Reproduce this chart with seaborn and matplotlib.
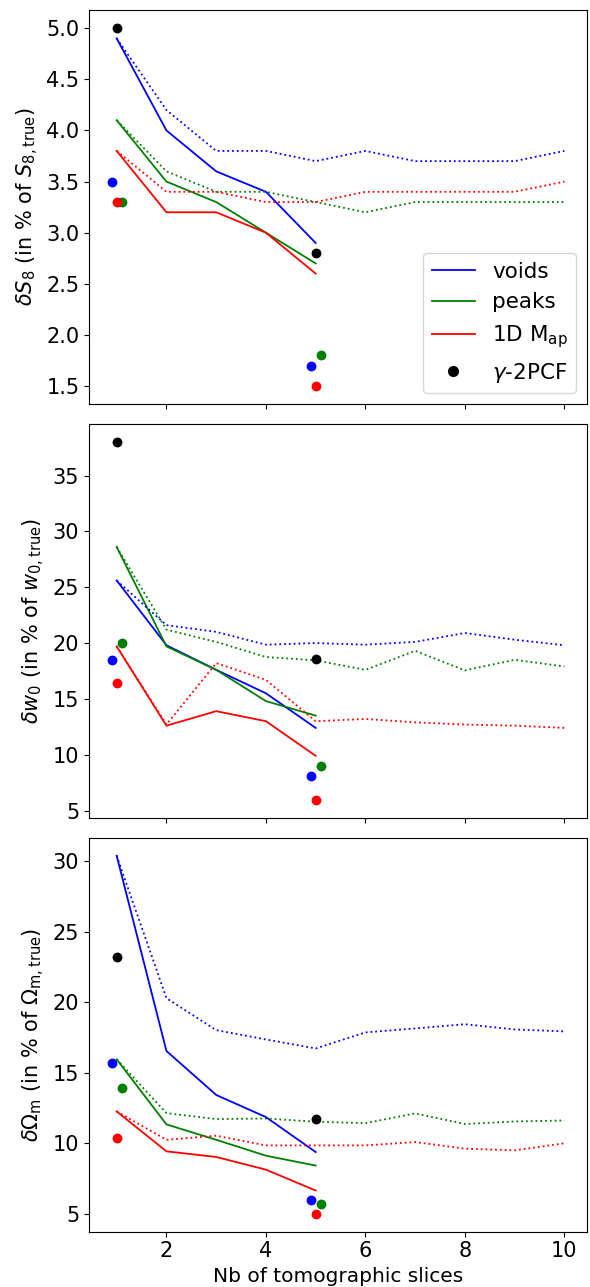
import matplotlib
matplotlib.use("Agg")
import matplotlib.pyplot as plt
from matplotlib.lines import Line2D
import seaborn as sns
import numpy as np

# ---------------- data ----------------
n_slices_short = [1, 2, 3, 4, 5]
n_slices_long = [1, 2, 3, 4, 5, 6, 7, 8, 9, 10]

# S8 panel
s8_voids = [4.9, 4.0, 3.6, 3.4, 2.9]
s8_peaks = [4.1, 3.5, 3.3, 3.0, 2.7]
s8_map = [3.8, 3.2, 3.2, 3.0, 2.6]
s8_voids_dot = [4.9, 4.2, 3.8, 3.8, 3.7, 3.8, 3.7, 3.7, 3.7, 3.8]
s8_peaks_dot = [4.1, 3.6, 3.4, 3.4, 3.3, 3.2, 3.3, 3.3, 3.3, 3.3]
s8_map_dot = [3.8, 3.4, 3.4, 3.3, 3.3, 3.4, 3.4, 3.4, 3.4, 3.5]
s8_pts_voids = [3.5, 1.7]
s8_pts_peaks = [3.3, 1.8]
s8_pts_map = [3.3, 1.5]
s8_pts_2pcf = [5.0, 2.8]

# w0 panel
w0_voids = [25.6, 19.8, 17.6, 15.5, 12.4]
w0_peaks = [28.6, 19.7, 17.6, 14.8, 13.5]
w0_map = [19.7, 12.6, 13.9, 13.0, 9.9]
w0_voids_dot = [25.6, 21.6, 21.0, 19.85, 20.0, 19.85, 20.1, 20.9, 20.3, 19.8]
w0_peaks_dot = [28.6, 21.2, 20.1, 18.75, 18.45, 17.6, 19.3, 17.55, 18.5, 17.9]
w0_map_dot = [19.7, 12.7, 18.2, 16.7, 13.0, 13.2, 12.9, 12.7, 12.6, 12.4]
w0_pts_voids = [18.45, 8.1]
w0_pts_peaks = [20.0, 9.0]
w0_pts_map = [16.4, 5.95]
w0_pts_2pcf = [38.0, 18.6]

# Omega_m panel
om_voids = [30.4, 16.55, 13.43, 11.86, 9.38]
om_peaks = [15.96, 11.34, 10.25, 9.12, 8.42]
om_map = [12.26, 9.43, 9.03, 8.13, 6.65]
om_voids_dot = [30.4, 20.3, 18.03, 17.37, 16.73, 17.87, 18.15, 18.45, 18.08, 17.94]
om_peaks_dot = [15.96, 12.14, 11.72, 11.76, 11.53, 11.43, 12.12, 11.37, 11.55, 11.62]
om_map_dot = [12.26, 10.25, 10.54, 9.85, 9.85, 9.85, 10.09, 9.62, 9.5, 10.0]
om_pts_voids = [15.67, 6.01]
om_pts_peaks = [13.9, 5.71]
om_pts_map = [10.37, 5.0]
om_pts_2pcf = [23.19, 11.72]

pts_x_voids = [0.9, 4.9]
pts_x_peaks = [1.1, 5.1]
pts_x_map = [1.0, 5.0]
pts_x_2pcf = [1.0, 5.0]

ylabels = [r"$\delta S_8$ (in % of $S_{8,\rm true}$)",
           r"$\delta w_0$ (in % of $w_{0,\rm true}$)",
           r"$\delta\Omega_{\rm m}$ (in % of $\Omega_{\rm m,true}$)"]
labels = ["voids", "peaks", r"1D M$_{\rm ap}$", r"$\gamma$-2PCF"]
colors = ["blue", "green", "red", "black"]

panels = [
    (s8_voids, s8_peaks, s8_map, s8_voids_dot, s8_peaks_dot, s8_map_dot,
     s8_pts_voids, s8_pts_peaks, s8_pts_map, s8_pts_2pcf),
    (w0_voids, w0_peaks, w0_map, w0_voids_dot, w0_peaks_dot, w0_map_dot,
     w0_pts_voids, w0_pts_peaks, w0_pts_map, w0_pts_2pcf),
    (om_voids, om_peaks, om_map, om_voids_dot, om_peaks_dot, om_map_dot,
     om_pts_voids, om_pts_peaks, om_pts_map, om_pts_2pcf),
]

plt.rcParams["font.size"] = 14
fig, axes = plt.subplots(3, 1, sharex=True, figsize=(5.9, 12.87), dpi=100)
fig.subplots_adjust(left=0.151, right=0.995, top=0.992, bottom=0.043, hspace=0.051)

lw = 1.3
ms = 50
for ax, p, yl in zip(axes, panels, ylabels):
    sv, sp, sm, dv, dp, dm, pv, pp, pm, pg = p
    for y, c in zip([sv, sp, sm], colors[:3]):
        sns.lineplot(x=n_slices_short, y=y, color=c, lw=lw, ax=ax)
    for y, c in zip([dv, dp, dm], colors[:3]):
        sns.lineplot(x=n_slices_long, y=y, color=c, lw=lw, ls=":", ax=ax)
    for xs, ys, c in zip([pts_x_voids, pts_x_peaks, pts_x_map, pts_x_2pcf],
                         [pv, pp, pm, pg], colors):
        sns.scatterplot(x=xs, y=ys, color=c, s=ms, linewidth=0, ax=ax, zorder=3)
    ax.set_ylabel(yl, fontsize=15)
    ax.tick_params(labelsize=15)

axes[2].set_xticks([2, 4, 6, 8, 10])
axes[2].set_xlabel("Nb of tomographic slices", fontsize=14.5)

handles = [Line2D([], [], color=colors[i], lw=lw) for i in range(3)]
handles.append(Line2D([], [], color="black", marker="o", ls="", markersize=7))
axes[0].legend(handles, labels, loc="lower right", fontsize=15.5)

fig.savefig("out.png", dpi=100)
